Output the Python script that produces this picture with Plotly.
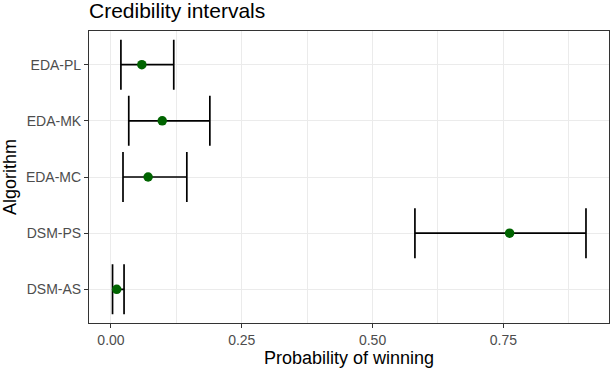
import plotly.graph_objects as go

# Posterior summaries
algorithms = ["DSM-AS", "DSM-PS", "EDA-MC", "EDA-MK", "EDA-PL"]
prob_mean = [0.011, 0.762, 0.071, 0.098, 0.059]
prob_low = [0.003, 0.581, 0.023, 0.034, 0.019]
prob_high = [0.025, 0.908, 0.145, 0.189, 0.120]

err_plus = [h - m for h, m in zip(prob_high, prob_mean)]
err_minus = [m - l for m, l in zip(prob_mean, prob_low)]

fig = go.Figure()

fig.add_trace(go.Scatter(
    x=prob_mean,
    y=algorithms,
    mode="markers",
    marker=dict(color="#006400", size=9.5),
    error_x=dict(
        type="data",
        symmetric=False,
        array=err_plus,
        arrayminus=err_minus,
        color="black",
        thickness=1.7,
        width=25,
    ),
    showlegend=False,
))

font_family = "Liberation Sans, Arial, sans-serif"

fig.update_layout(
    width=610,
    height=368,
    margin=dict(l=89, r=1, t=31, b=45),
    paper_bgcolor="white",
    plot_bgcolor="white",
    font=dict(family=font_family, color="black"),
    title=dict(
        text="Credibility intervals",
        x=0, xref="paper", xanchor="left",
        y=0.99, yref="container", yanchor="top",
        pad=dict(t=0, l=0),
        font=dict(size=21, color="black"),
    ),
    xaxis=dict(
        range=[-0.042, 0.952],
        tickvals=[0, 0.25, 0.5, 0.75],
        ticktext=["0.00", "0.25", "0.50", "0.75"],
        showgrid=True,
        gridcolor="#EBEBEB",
        gridwidth=1.1,
        minor=dict(tickvals=[0.125, 0.375, 0.625, 0.875], showgrid=True,
                   gridcolor="#EBEBEB", gridwidth=0.55, ticklen=0),
        zeroline=False,
        showline=True,
        linecolor="#333333",
        linewidth=1.1,
        mirror=True,
        ticks="outside",
        ticklen=4,
        tickcolor="#333333",
        tickwidth=1.1,
        tickfont=dict(size=14, color="#4D4D4D"),
        automargin=False,
        title=dict(text="Probability of winning", font=dict(size=18), standoff=2),
    ),
    yaxis=dict(
        type="category",
        categoryorder="array",
        categoryarray=algorithms,
        range=[-0.6, 4.6],
        showgrid=True,
        gridcolor="#EBEBEB",
        gridwidth=1.1,
        zeroline=False,
        showline=True,
        linecolor="#333333",
        linewidth=1.1,
        mirror=True,
        ticks="outside",
        ticklen=4,
        tickcolor="#333333",
        tickwidth=1.1,
        tickfont=dict(size=14, color="#4D4D4D"),
        automargin=False,
        title=dict(text="Algorithm", font=dict(size=18), standoff=8),
    ),
)

# the page's default body margin would shift the fixed-size figure
fig.write_html("out.html", config={"displayModeBar": False},
               post_script="document.body.style.margin = '0';")
